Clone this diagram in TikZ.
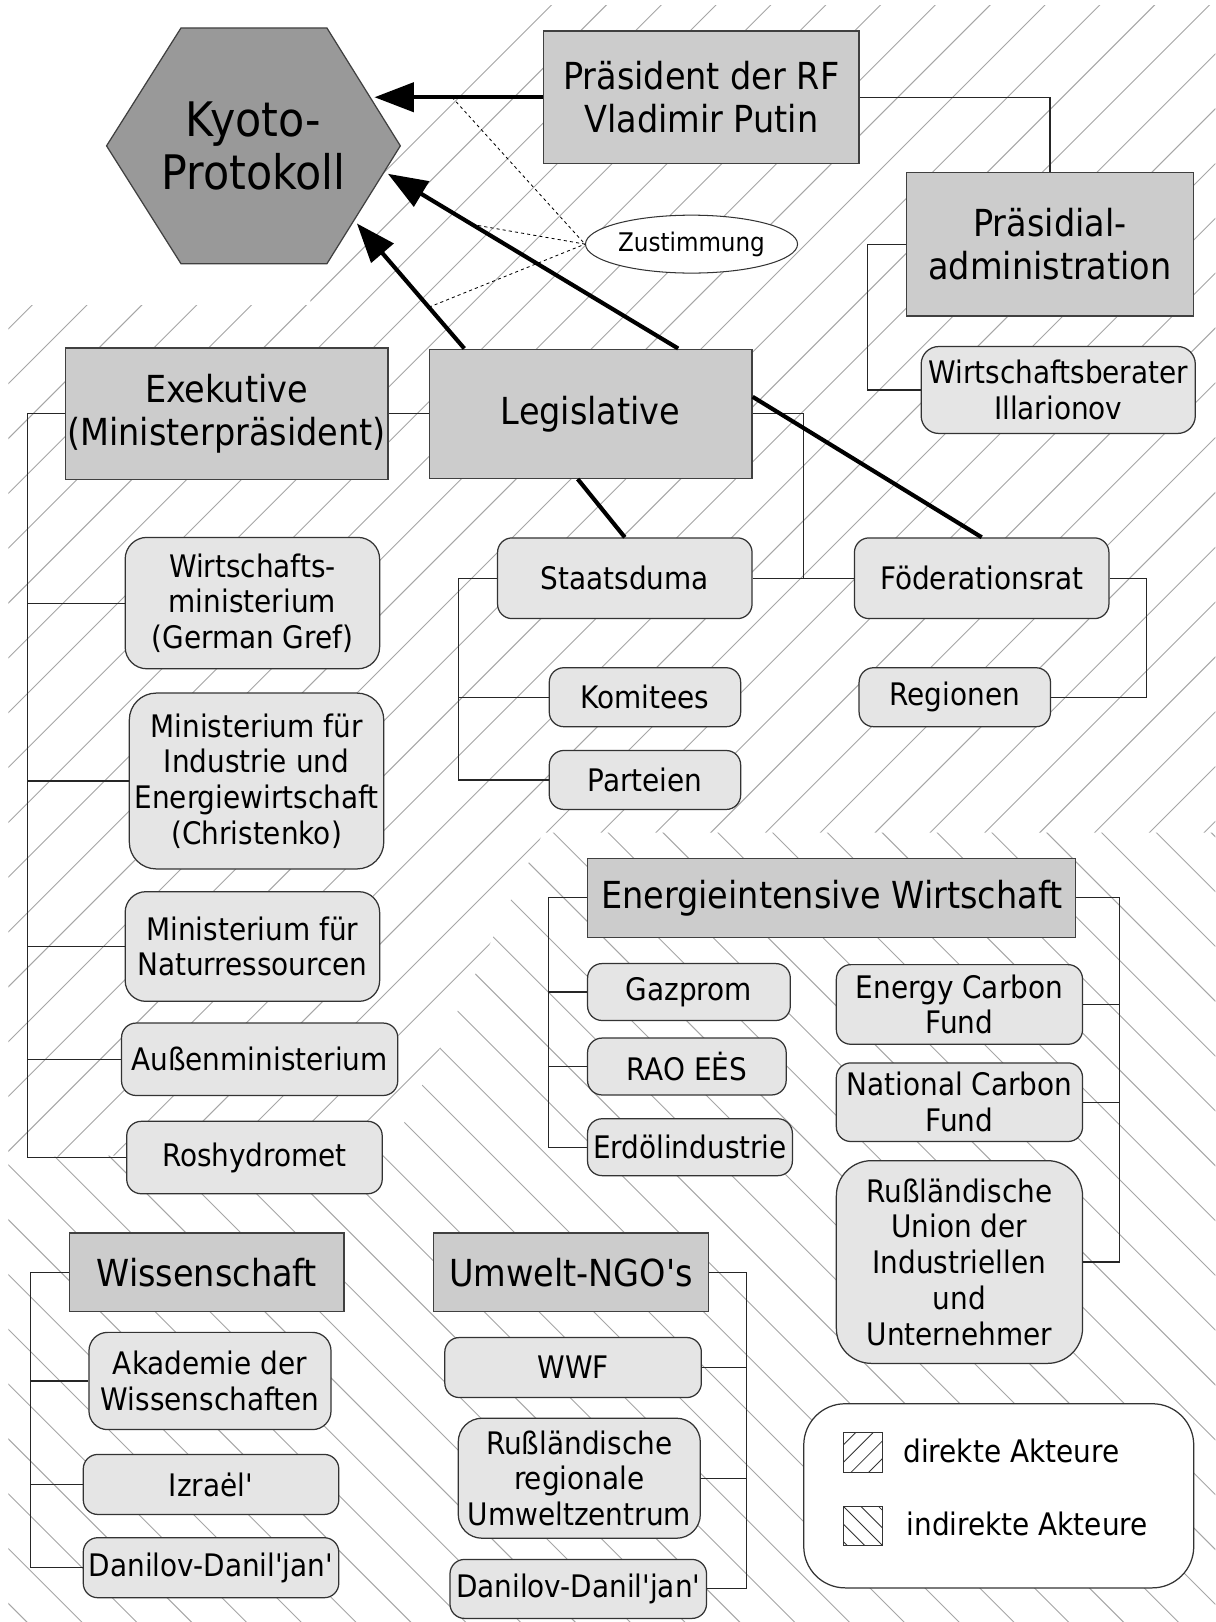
\documentclass[tikz,border=0pt]{standalone}
\usepackage{fontspec}
\setmainfont{DejaVu Sans Condensed}
\usepackage{tikz}
\usetikzlibrary{arrows.meta,calc,shapes.geometric}
\newcommand\sq{\XeTeXglyph\XeTeXcharglyph"27\relax}
\tikzset{
  darkbox/.style={draw=black!75, fill=black!20, line width=0.6pt, align=center,
    inner sep=1pt, font=\fontsize{18}{20.5}\selectfont},
  lightbox/.style={draw=black!80, fill=black!10, line width=0.6pt, rounded corners=7pt,
    align=center, inner sep=1pt, font=\fontsize{15}{17.3}\selectfont},
  wire/.style={draw=black!85, line width=0.55pt},
  heavy/.style={line width=2pt},
  pointer/.style={-{Triangle[length=19pt,width=14pt]}, line width=2pt},
  consent/.style={dash pattern=on 1.5pt off 1.5pt, line width=0.4pt},
  hatchline/.style={draw=black!35, line width=0.45pt},
  swatch/.style={draw=black!80, minimum size=19pt, inner sep=0pt, line width=0.5pt},
  legendtext/.style={font=\fontsize{15}{17}\selectfont, anchor=base west, inner sep=0pt},
}

\begin{document}
\begin{tikzpicture}[x=0.5pt,y=-0.5pt]
  \useasboundingbox (0,0) rectangle (1175,1568);
  \fill[white] (0,0) rectangle (1175,1568);

  % direkte Akteure
  \begin{scope}
    \clip (8,295) -- (300,295) -- (300,240) -- (340,142) -- (392,142) -- (529,5)
      -- (1175,5) -- (1175,805) -- (525,805) -- (378,1112) -- (8,1119) -- cycle;
    \foreach \c in {8,61,...,2764}
      \draw[hatchline] (\c,0) -- ({\c-1600},1600);
  \end{scope}
  % indirekte Akteure
  \begin{scope}
    \clip (8,1119) -- (378,1112) -- (525,805) -- (1175,805) -- (1175,1568)
      -- (8,1568) -- cycle;
    \foreach \c in {-1595,-1542,...,1200}
      \draw[hatchline] (\c,0) -- ({\c+1600},1600);
  \end{scope}

  % Kyoto
  \draw[draw=black!75, fill=black!40, line width=0.6pt]
    (175,27) -- (316,27) -- (387,141) -- (316,255) -- (175,255) -- (103,141) -- cycle;
  \node[font=\fontsize{23}{25.5}\selectfont, align=center] (kyoto) at (245,141)
    {Kyoto-\\Protokoll};
  \coordinate (kyA) at (362,94);
  \coordinate (kyB) at (375,168);
  \coordinate (kyC) at (345,216);

  \node[darkbox, minimum width=152.5pt, minimum height=64pt] (praes) at (678,94)
    {Präsident der RF\\Vladimir Putin};
  \node[darkbox, minimum width=139pt, minimum height=69.5pt] (admin) at (1015,236)
    {Präsidial-\\administration};
  \node[lightbox, rounded corners=8.5pt, minimum width=132.5pt, minimum height=42pt]
    (berater) at (1023,377) {Wirtschaftsberater\\Illarionov};
  \node[draw=black!80, fill=white, ellipse, line width=0.5pt, inner sep=0pt,
    minimum width=102.5pt, minimum height=28pt, font=\fontsize{12.4}{14}\selectfont]
    (zust) at (668.5,236) {Zustimmung};

  \node[darkbox, minimum width=156pt, minimum height=63.5pt] (exek) at (219,400)
    {Exekutive\\(Ministerpräsident)};
  \node[darkbox, minimum width=156pt, minimum height=62.5pt] (legis) at (571,400)
    {Legislative};
  \node[lightbox, minimum width=123pt, minimum height=39pt] (staats) at (604,559)
    {Staatsduma};
  \node[lightbox, minimum width=123pt, minimum height=39pt] (foed) at (949,559)
    {Föderationsrat};
  \node[lightbox, minimum width=92.5pt, minimum height=28.5pt] (komit) at (623.5,674)
    {Komitees};
  \node[lightbox, minimum width=92.5pt, minimum height=28.5pt] (partei) at (623.5,754)
    {Parteien};
  \node[lightbox, minimum width=92.5pt, minimum height=28.5pt] (region) at (923,674)
    {Regionen};

  \node[lightbox, rounded corners=10.5pt, minimum width=123pt, minimum height=63.5pt]
    (wimin) at (244,583) {Wirtschafts-\\ministerium\\(German Gref)};
  \node[lightbox, rounded corners=13pt, minimum width=123pt, minimum height=85pt]
    (indmin) at (248,755) {Ministerium für\\Industrie und\\Energiewirtschaft\\(Christenko)};
  \node[lightbox, rounded corners=10pt, minimum width=123pt, minimum height=53pt]
    (natmin) at (244,915) {Ministerium für\\Naturressourcen};
  \node[lightbox, minimum width=133.5pt, minimum height=35pt] (aussen) at (251,1024)
    {Außenministerium};
  \node[lightbox, minimum width=123.5pt, minimum height=35pt] (roshy) at (246,1119)
    {Roshydromet};

  \node[darkbox, minimum width=236pt, minimum height=38pt] (energie) at (804,868)
    {Energieintensive Wirtschaft};
  \node[lightbox, minimum width=98pt, minimum height=27.5pt] (gazprom) at (666,959)
    {Gazprom};
  \node[lightbox, minimum width=96pt, minimum height=27.5pt] (rao) at (664,1031)
    {RAO EĖS};
  \node[lightbox, minimum width=99pt, minimum height=27.5pt] (erdoel) at (667,1109)
    {Erdölindustrie};
  \node[lightbox, minimum width=119pt, minimum height=38.5pt] (ecf) at (927.5,971)
    {Energy Carbon\\Fund};
  \node[lightbox, minimum width=119pt, minimum height=38pt] (ncf) at (927.5,1065.5)
    {National Carbon\\Fund};
  \node[lightbox, rounded corners=17pt, minimum width=119pt, minimum height=98pt]
    (rspp) at (927.5,1220) {Rußländische\\Union der\\Industriellen\\und\\Unternehmer};

  \node[darkbox, minimum width=132.5pt, minimum height=38pt] (wiss) at (200,1230)
    {Wissenschaft};
  \node[lightbox, rounded corners=9pt, minimum width=117pt, minimum height=47pt]
    (akad) at (203,1335) {Akademie der\\Wissenschaften};
  \node[lightbox, minimum width=123.5pt, minimum height=29pt] (izrael) at (204,1435)
    {Izraėl\sq};
  \node[lightbox, minimum width=123.5pt, minimum height=29pt] (danL) at (204,1515.5)
    {Danilov-Danil\sq jan\sq};

  \node[darkbox, minimum width=133pt, minimum height=38pt] (umwelt) at (552,1230)
    {Umwelt-NGO\sq s};
  \node[lightbox, minimum width=124pt, minimum height=29pt] (wwf) at (554,1322)
    {WWF};
  \node[lightbox, rounded corners=11.5pt, minimum width=117pt, minimum height=58pt]
    (rrz) at (560,1429) {Rußländische\\regionale\\Umweltzentrum};
  \node[lightbox, minimum width=124pt, minimum height=28.5pt] (danR) at (559,1536)
    {Danilov-Danil\sq jan\sq};

  % Verbindungen
  \draw[wire] (praes.east) -| (admin.north);
  \draw[wire] (admin.west) -- ++(-37,0) |- (berater.west);
  \draw[wire] (exek.east) -- (legis.west);
  \draw[wire] (exek.west) -- ++(-36,0) coordinate (exbus) |- (roshy.west);
  \foreach \n in {wimin,indmin,natmin,aussen}
    \draw[wire] (\n.west) -- (\n.west -| exbus);
  \draw[wire] (legis.east) -- ++(49,0) |- (foed.west);
  \draw[wire] (staats.east) -- (foed.west);
  \draw[wire] (staats.west) -- ++(-37,0) coordinate (sdbus) |- (partei.west);
  \draw[wire] (komit.west) -- (komit.west -| sdbus);
  \draw[wire] (foed.east) -- ++(36,0) |- (region.east);
  \draw[wire] (energie.west) -- ++(-37,0) coordinate (ewbus) |- (erdoel.west);
  \foreach \n in {gazprom,rao}
    \draw[wire] (\n.west) -- (\n.west -| ewbus);
  \draw[wire] (energie.east) -- ++(42,0) coordinate (erbus) |- (rspp.east);
  \foreach \n in {ecf,ncf}
    \draw[wire] (\n.east) -- (\n.east -| erbus);
  \draw[wire] (wiss.west) -- ++(-37,0) coordinate (wsbus) |- (danL.west);
  \foreach \n in {akad,izrael}
    \draw[wire] (\n.west) -- (\n.west -| wsbus);
  \draw[wire] (umwelt.east) -- ++(36,0) coordinate (ngbus) |- (danR.east);
  \foreach \n in {wwf,rrz}
    \draw[wire] (\n.east) -- (\n.east -| ngbus);

  \draw[heavy] ($(legis.south west)!0.46!(legis.south east)$) -- (staats.north);
  \draw[heavy] ($(legis.north east)!0.37!(legis.south east)$) -- (foed.north);
  \draw[pointer] (praes.west) -- coordinate[pos=0.54] (zA) (kyA);
  \draw[pointer] ($(legis.north west)!0.77!(legis.north east)$)
    -- coordinate[pos=0.71] (zB) (kyB);
  \draw[pointer] ($(legis.north west)!0.11!(legis.north east)$)
    -- coordinate[pos=0.33] (zC) (kyC);
  \foreach \z in {zA,zB,zC}
    \draw[consent] (\z) -- (zust.west);

  % Legende
  \node[draw=black!80, fill=white, rounded corners=20pt, line width=0.6pt,
    minimum width=188.5pt, minimum height=89pt] (legend) at (965.5,1446) {};
  \node[swatch, path picture={
      \foreach \o in {-26,-9,8,25}
        \draw[line width=0.4pt] ([shift={(\o,0)}]path picture bounding box.center)
          ++(-25,25) -- ++(50,-50);}] (swdir) at (834,1404) {};
  \node[swatch, path picture={
      \foreach \o in {-34,-17,0,17,34}
        \draw[line width=0.4pt] ([shift={(\o,0)}]path picture bounding box.center)
          ++(-25,-25) -- ++(50,50);}] (swind) at (834,1475) {};
  \node[legendtext] (txdir) at (873,1414) {direkte Akteure};
  \node[legendtext] (txind) at (876,1484) {indirekte Akteure};
\end{tikzpicture}
\end{document}
